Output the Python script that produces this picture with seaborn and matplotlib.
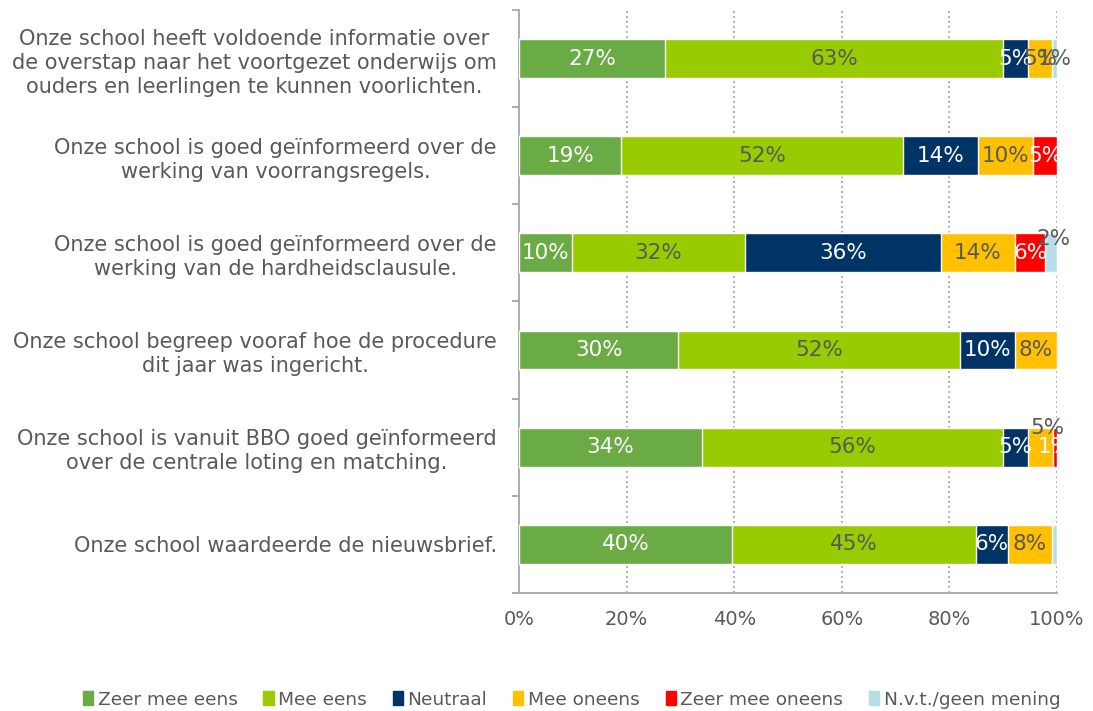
import numpy as np
import pandas as pd
import matplotlib
matplotlib.use("Agg")
import matplotlib.pyplot as plt
import matplotlib.patches as mpatches
import seaborn as sns

# statements (top to bottom)
statements = [
    "Onze school heeft voldoende informatie over\nde overstap naar het voortgezet onderwijs om\nouders en leerlingen te kunnen voorlichten.",
    "Onze school is goed geïnformeerd over de\nwerking van voorrangsregels.",
    "Onze school is goed geïnformeerd over de\nwerking van de hardheidsclausule.",
    "Onze school begreep vooraf hoe de procedure\ndit jaar was ingericht.",
    "Onze school is vanuit BBO goed geïnformeerd\nover de centrale loting en matching.",
    "Onze school waardeerde de nieuwsbrief.",
]

series = ["Zeer mee eens", "Mee eens", "Neutraal", "Mee oneens",
          "Zeer mee oneens", "N.v.t./geen mening"]

# shares in percent
zeer_mee_eens = [27.1, 19.0, 9.9, 29.6, 34.0, 39.6]
mee_eens = [62.9, 52.4, 32.1, 52.4, 56.0, 45.4]
neutraal = [4.6, 14.0, 36.4, 10.2, 4.6, 5.8]
mee_oneens = [4.5, 10.1, 13.8, 7.8, 4.6, 8.3]
zeer_mee_oneens = [0.0, 4.5, 5.6, 0.0, 0.8, 0.0]
nvt = [0.9, 0.0, 2.2, 0.0, 0.0, 0.9]

# data labels as shown in the chart ('' = no label)
lab_zeer_mee_eens = ["27%", "19%", "10%", "30%", "34%", "40%"]
lab_mee_eens = ["63%", "52%", "32%", "52%", "56%", "45%"]
lab_neutraal = ["5%", "14%", "36%", "10%", "5%", "6%"]
lab_mee_oneens = ["5%", "10%", "14%", "8%", "5%", "8%"]
lab_zeer_mee_oneens = ["", "5%", "6%", "", "1%", ""]
lab_nvt = ["1%", "", "2%", "", "", ""]

colors = ["#6AAB46", "#99CC00", "#003366", "#FFC000", "#FF0000", "#B7DEE8"]
label_colors = ["white", "#595959", "white", "#595959", "white", "#595959"]
text_color = "#595959"
grid_color = "#A6A6A6"

values = [zeer_mee_eens, mee_eens, neutraal, mee_oneens, zeer_mee_oneens, nvt]
labels = [lab_zeer_mee_eens, lab_mee_eens, lab_neutraal, lab_mee_oneens,
          lab_zeer_mee_oneens, lab_nvt]

df = pd.DataFrame({s: v for s, v in zip(series, values)})
df["Stelling"] = statements
cum = df[series].cumsum(axis=1)

sns.set_style("white")
plt.rcParams["font.family"] = ["DejaVu Sans"]

fig = plt.figure(figsize=(10.93, 7.11), dpi=100)
ax = fig.add_axes([0.4749, 0.166, 0.4922, 0.820])

# stacked bars: draw cumulative totals from the last series to the first
for i in range(len(series) - 1, -1, -1):
    tmp = pd.DataFrame({"Stelling": statements, "x": cum[series[i]]})
    sns.barplot(data=tmp, x="x", y="Stelling", color=colors[i], width=0.4,
                saturation=1, orient="h", ax=ax, zorder=3)

# data labels
for i in range(len(series)):
    for j in range(len(statements)):
        txt = labels[i][j]
        if not txt:
            continue
        xc = cum[series[i]][j] - values[i][j] / 2
        yc = j
        clip = i == 4
        # labels that sit above the bar in the original
        if i == 5 and j == 2:
            yc -= 0.14
            xc += 0.5
        if i == 3 and j == 4:
            yc -= 0.2
            xc += 1.3
        ax.text(xc, yc, txt, ha="center", va="center", fontsize=15.5,
                color=label_colors[i], zorder=5, clip_on=clip)

ax.set_xlim(0, 100)
ax.set_ylim(5.5, -0.5)
ax.set_xticks(np.arange(0, 101, 20))
ax.set_xticklabels([f"{v}%" for v in range(0, 101, 20)])
ax.set_xlabel("")
ax.set_ylabel("")

for x in range(20, 101, 20):
    ax.axvline(x, color=grid_color, linestyle=(0, (1.2, 1.8)), linewidth=1.2, zorder=1)

for s in ["top", "right"]:
    ax.spines[s].set_visible(False)
for s in ["left", "bottom"]:
    ax.spines[s].set_color(grid_color)
    ax.spines[s].set_linewidth(1.3)

ax.set_yticks(np.arange(-0.5, 6.0, 1.0), minor=True)
ax.tick_params(axis="y", which="minor", length=5, color=grid_color, width=1.3, left=True)
ax.tick_params(axis="y", which="major", length=0, pad=16, labelsize=15,
               labelcolor=text_color)
ax.tick_params(axis="x", length=0, pad=12, labelsize=14, labelcolor=text_color)
for t in ax.get_yticklabels():
    t.set_multialignment("center")
    t.set_linespacing(1.25)

handles = [mpatches.Patch(color=c, label=s) for c, s in zip(colors, series)]
fig.legend(handles=handles, loc="lower center", bbox_to_anchor=(0.523, -0.02),
           ncol=6, frameon=False, fontsize=13.3, handlelength=0.55, handleheight=0.8,
           handletextpad=0.25, columnspacing=1.4, labelcolor=text_color)

fig.savefig("out.png", dpi=100)
